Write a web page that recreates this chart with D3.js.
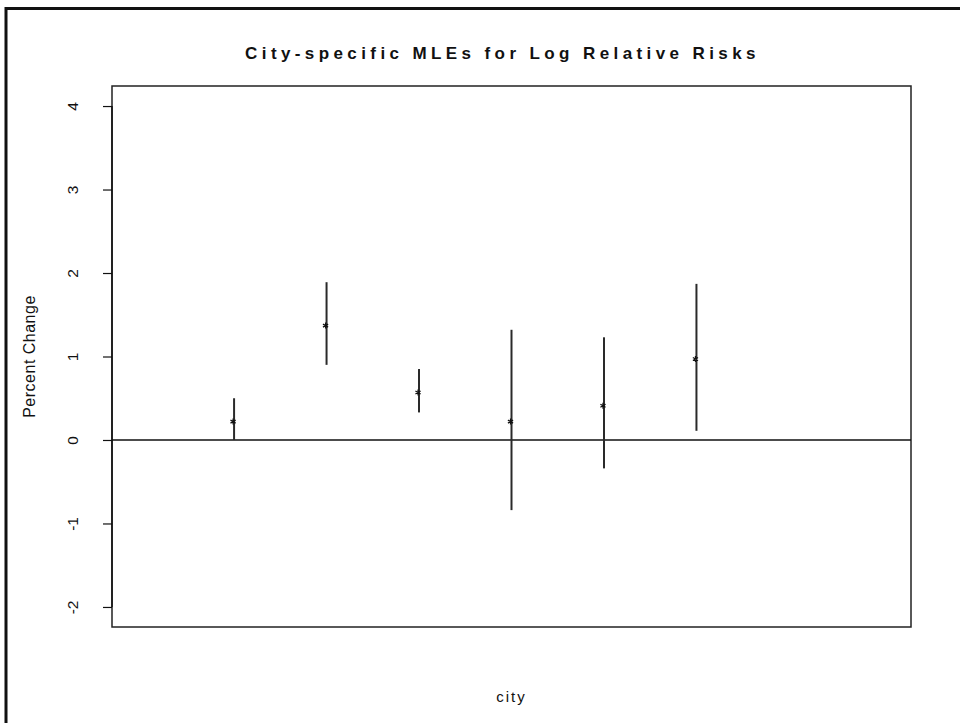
<!DOCTYPE html>
<html>
<head>
<meta charset="utf-8">
<script src="https://cdn.jsdelivr.net/npm/d3@7"></script>
<style>
  html, body { margin: 0; padding: 0; background: #fff; }
  svg { display: block; }
  text { font-family: "Liberation Sans", Arial, sans-serif; fill: #111; }
</style>
</head>
<body>
<script>
// City-level estimates with confidence interval bounds
const cities = [1, 2, 3, 4, 5, 6];
const estimates = [0.22, 1.37, 0.57, 0.22, 0.41, 0.97];
const lower = [0.00, 0.90, 0.33, -0.84, -0.34, 0.11];
const upper = [0.50, 1.89, 0.85, 1.32, 1.23, 1.87];
const yTicks = [-2, -1, 0, 1, 2, 3, 4];
const xLimits = [0, 8];
const yLimits = [-2, 4];

const width = 960, height = 723;
const plot = { left: 112, right: 911, top: 86, bottom: 627 };

const svg = d3.select("body").append("svg")
  .attr("width", width).attr("height", height);

// outer device frame (extends past the right and bottom edges)
svg.append("rect")
  .attr("x", 6).attr("y", 8.5)
  .attr("width", width + 20).attr("height", height + 20)
  .attr("fill", "none").attr("stroke", "#111").attr("stroke-width", 3);

// padded limits, 4% on each side
const pad = (lim) => { const r = lim[1] - lim[0]; return [lim[0] - 0.04 * r, lim[1] + 0.04 * r]; };

const x = d3.scaleLinear().domain(pad(xLimits)).range([plot.left, plot.right]);
const y = d3.scaleLinear().domain(pad(yLimits)).range([plot.bottom, plot.top]);

// plot box
svg.append("rect")
  .attr("x", plot.left).attr("y", plot.top)
  .attr("width", plot.right - plot.left).attr("height", plot.bottom - plot.top)
  .attr("fill", "none").attr("stroke", "#222").attr("stroke-width", 1.5);

// y axis on the left, labels rotated; plain hyphen for negatives
const yAxis = d3.axisLeft(y).tickValues(yTicks).tickSize(9).tickPadding(0)
  .tickFormat((d) => (d < 0 ? "-" + Math.abs(d) : String(d)));
const gy = svg.append("g").attr("transform", `translate(${plot.left},0)`).call(yAxis);
gy.select(".domain").attr("stroke", "#111").attr("stroke-width", 1.5)
  .attr("d", `M0,${y(yTicks[0])}V${y(yTicks[yTicks.length - 1])}`);
gy.selectAll(".tick line").attr("stroke", "#111").attr("stroke-width", 1.2);
gy.selectAll(".tick text")
  .attr("x", null).attr("dy", null)
  .attr("transform", "translate(-38,0) rotate(-90)")
  .attr("text-anchor", "middle")
  .attr("dominant-baseline", "middle")
  .style("font-size", "15.5px")
  .style("font-family", "'Liberation Sans', Arial, sans-serif")
  .attr("fill", "#111");

// reference line at zero
svg.append("line")
  .attr("x1", plot.left).attr("x2", plot.right)
  .attr("y1", y(0)).attr("y2", y(0))
  .attr("stroke", "#111").attr("stroke-width", 1.5);

// interval whiskers
svg.append("g").selectAll("line")
  .data(cities)
  .join("line")
  .attr("x1", (d) => x(d)).attr("x2", (d) => x(d))
  .attr("y1", (d, i) => y(lower[i])).attr("y2", (d, i) => y(upper[i]))
  .attr("stroke", "#2a2a2a").attr("stroke-width", 2);

// point estimates drawn as small asterisks
const star = (s) => {
  let p = "";
  for (let k = 0; k < 3; k++) {
    const a = Math.PI / 2 + k * Math.PI / 3;
    const dx = Math.cos(a) * s, dy = Math.sin(a) * s;
    p += `M${-dx},${-dy}L${dx},${dy}`;
  }
  return p;
};
svg.append("g").selectAll("path")
  .data(cities)
  .join("path")
  .attr("transform", (d, i) => `translate(${x(d) - 1},${y(estimates[i])})`)
  .attr("d", star(3))
  .attr("stroke", "#111").attr("stroke-width", 1.2).attr("fill", "none");

// title and axis labels
svg.append("text")
  .attr("x", (plot.left + plot.right) / 2 - 9).attr("y", 59)
  .attr("text-anchor", "middle")
  .style("font-size", "17px").style("font-weight", "bold").style("letter-spacing", "4.4px")
  .text("City-specific MLEs for Log Relative Risks");

svg.append("text")
  .attr("x", (plot.left + plot.right) / 2).attr("y", 702)
  .attr("text-anchor", "middle")
  .style("font-size", "15px").style("letter-spacing", "2px")
  .text("city");

svg.append("text")
  .attr("transform", `translate(35,${(plot.top + plot.bottom) / 2}) rotate(-90)`)
  .attr("text-anchor", "middle")
  .style("font-size", "16px").style("letter-spacing", "0.5px")
  .text("Percent Change");
</script>
</body>
</html>
